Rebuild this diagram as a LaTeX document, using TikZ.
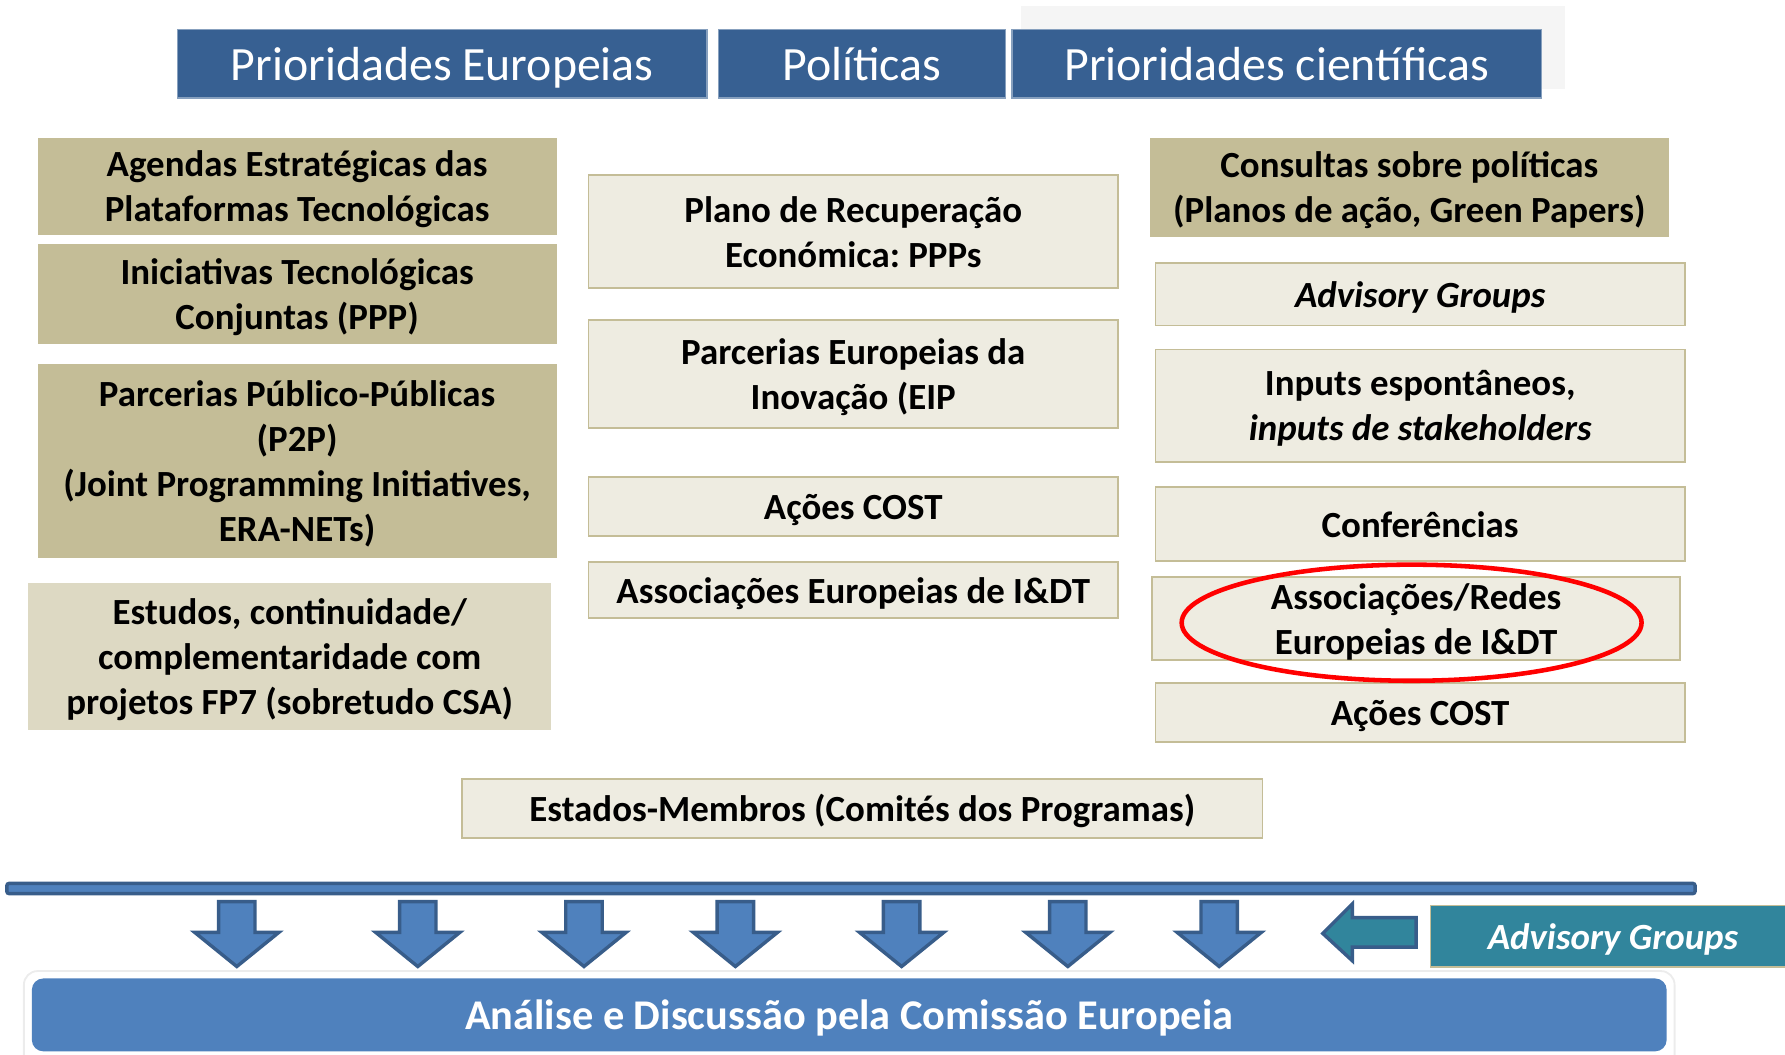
\documentclass[tikz,border=0pt]{standalone}
\usepackage{fontspec}
\setmainfont{Carlito}
\frenchspacing
\definecolor{hdrblue}{HTML}{376092}
\definecolor{barblue}{HTML}{4F81BD}
\definecolor{edgeblue}{HTML}{385D8A}
\definecolor{sand}{HTML}{C4BD97}
\definecolor{lightsand}{HTML}{DDD9C3}
\definecolor{palesand}{HTML}{EEECE1}
\definecolor{agteal}{HTML}{31859C}
\begin{document}
\begin{tikzpicture}[x=0.5pt,y=-0.5pt,
  wh/.style 2 args={minimum width=#1*0.5pt,minimum height=#2*0.5pt},
  hdr/.style={fill=hdrblue,draw=hdrblue!60!white,line width=0.6pt,text=white,
    inner sep=0pt,text depth=0pt,font=\fontsize{21}{25}\selectfont},
  bodytxt/.style={align=center,inner sep=0pt,text depth=0pt,font=\bfseries\fontsize{16.2}{19.75}\selectfont},
  sandbox/.style={bodytxt,fill=sand},
  lsandbox/.style={bodytxt,fill=lightsand},
  palebox/.style={bodytxt,fill=palesand,draw=sand,line width=0.8pt},
  downarrow/.style={fill=barblue,draw=edgeblue,line width=1.5pt,line join=miter}]

\useasboundingbox (0,0) rectangle (1568,926);
\clip (0,0) rectangle (1568,926);

% header
\fill[gray!8] (897,5) rectangle (1375,78);
\node[hdr,wh={465}{60}] (eu)  at (388.5,56) {Prioridades Europeias};
\node[hdr,wh={252}{60}] (pol) at (757,56)   {Políticas};
\node[hdr,wh={465}{60}] (sci) at (1121.5,56) {Prioridades científicas};

% left column
\node[sandbox,wh={456}{85}]  (agendas) at (261,163.5) {Agendas Estratégicas das\\Plataformas Tecnológicas};
\node[sandbox,wh={456}{88}]  (jti)     at (261,258)   {Iniciativas Tecnológicas\\Conjuntas (PPP)};
\node[sandbox,wh={456}{170}] (p2p)     at (261,405)   {Parcerias Público-Públicas\\(P2P)\\(Joint Programming Initiatives,\\ERA-NETs)};
\node[lsandbox,wh={459}{129}] (estudos) at (254.5,576.5) {Estudos, continuidade/\\complementaridade com\\projetos FP7 (sobretudo CSA)};

% middle column
\node[palebox,wh={465}{99}] (plano)  at (749.5,203.5) {Plano de Recuperação\\Económica: PPPs};
\node[palebox,wh={465}{95}] (eip)    at (749.5,328.5) {Parcerias Europeias da\\Inovação (EIP};
\node[palebox,wh={465}{52}] (costA)  at (749.5,445)   {Ações COST};
\node[palebox,wh={465}{49}] (assocA) at (749.5,518.5) {Associações Europeias de I\&DT};

% right column
\node[sandbox,wh={456}{87}] (consultas) at (1238,164.5) {Consultas sobre políticas\\(Planos de ação, Green Papers)};
\node[palebox,wh={465}{55}] (advA)   at (1247.5,258.5) {\itshape Advisory Groups};
\node[palebox,wh={465}{99}] (inputs) at (1247.5,356.5) {Inputs espontâneos,\\\itshape inputs de stakeholders};
\node[palebox,wh={465}{65}] (conf)   at (1247.5,460.5) {Conferências};
\node[palebox,wh={464}{73}] (redes)  at (1244,543.5)   {Associações/Redes\\Europeias de I\&DT};
\node[palebox,wh={465}{52}] (costB)  at (1247.5,626)   {Ações COST};
\draw[red,line width=2pt] (redes.center)++(-4,3.5) ellipse [x radius=101pt,y radius=25.5pt];

\node[palebox,wh={703}{52}] (estados) at (757.5,710) {Estados-Membros (Comités dos Programas)};

% bar and arrows
\draw[fill=barblue,draw=edgeblue,line width=1.5pt,rounded corners=1pt] (6,776) rectangle (1489,785);
\foreach \x in {208,367,513,646,792,938,1071}
  \draw[downarrow] (\x-16,792) -- (\x+16,792) -- (\x+16,819) -- (\x+37,819)
    -- (\x,849) -- (\x-37,819) -- (\x-16,819) -- cycle;
\draw[downarrow,fill=agteal] (1244,806) -- (1244,832) -- (1188,832) -- (1188,844)
  -- (1162,820) -- (1188,794) -- (1188,806) -- cycle;
\node[bodytxt,fill=agteal,draw=sand,line width=0.6pt,text=white,anchor=west,wh={340}{54}] (advB) at (1256,822.5)
  {\hspace*{-0.6em}\itshape Advisory Groups};

% bottom
\draw[fill=white,draw=gray!15,line width=0.8pt,rounded corners=6pt] (21,853) rectangle (1471,940);
\node[bodytxt,fill=barblue,text=white,rounded corners=5pt,wh={1436}{64},font=\bfseries\fontsize{18.6}{22}\selectfont]
  (analise) at (746,891.5) {Análise e Discussão pela Comissão Europeia};
\end{tikzpicture}
\end{document}
